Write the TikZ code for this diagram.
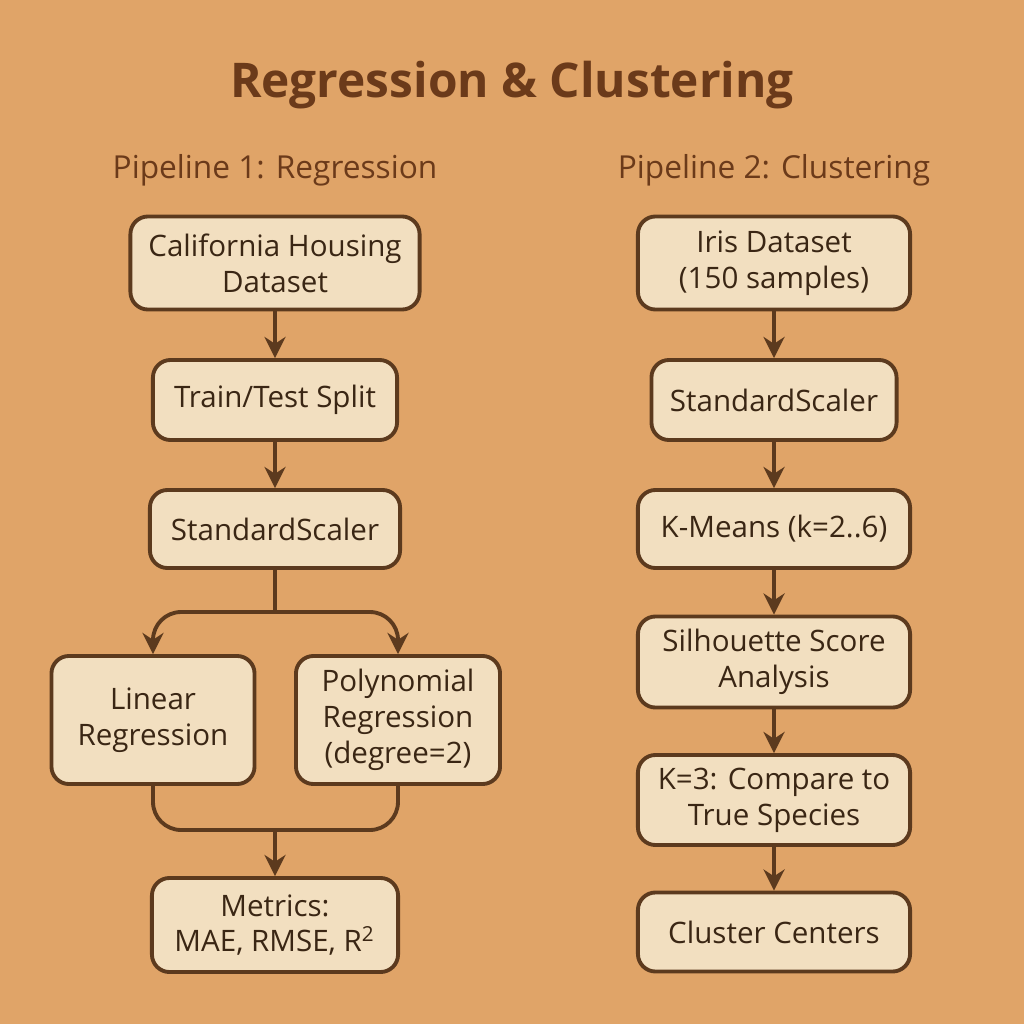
\documentclass[tikz,border=0pt]{standalone}
\usepackage{fontspec}
\setmainfont{Open Sans}
\usetikzlibrary{arrows.meta}
\definecolor{bg}{HTML}{E0A468}
\definecolor{boxf}{HTML}{F2DFC0}
\definecolor{brd}{HTML}{5C3A1E}
\definecolor{txt}{HTML}{3A2614}
\definecolor{ttl}{HTML}{6B3A1A}
\begin{document}
\begin{tikzpicture}[x=0.01cm,y=-0.01cm,
 box/.style={draw=brd,line width=1.1pt,fill=boxf,rounded corners=5pt,align=center,text=txt,font=\fontsize{8.4}{10.2}\selectfont,inner sep=0pt},
 arr/.style={draw=brd,line width=1.1pt,-{Stealth[length=6pt,width=6pt]}},
 ln/.style={draw=brd,line width=1.1pt}]
\useasboundingbox (0,0) rectangle (1024,1024);
\fill[bg] (0,0) rectangle (1024,1024);
\node[font=\bfseries\fontsize{13.6}{16}\selectfont,text=ttl] (title) at (512,85) {Regression \& Clustering};
\node[font=\fontsize{9}{11}\selectfont,text=ttl] (h1) at (275,170) {Pipeline 1: Regression};
\node[font=\fontsize{9}{11}\selectfont,text=ttl] (h2) at (774,170) {Pipeline 2: Clustering};
\node[box,minimum width=2.89cm,minimum height=0.93cm] (a1) at (275,263) {California Housing\\Dataset};
\node[box,minimum width=2.44cm,minimum height=0.80cm] (a2) at (275,400) {Train/Test Split};
\node[box,minimum width=2.50cm,minimum height=0.78cm] (a3) at (275,529) {StandardScaler};
\node[box,minimum width=2.03cm,minimum height=1.28cm] (a4) at (153,720) {Linear\\Regression};
\node[box,minimum width=2.04cm,minimum height=1.28cm] (a5) at (398,720) {Polynomial\\Regression\\(degree=2)};
\node[box,minimum width=2.46cm,minimum height=0.94cm] (a6) at (275,925) {Metrics:\\MAE, RMSE, R\textsuperscript{2}};
\node[box,minimum width=2.72cm,minimum height=0.93cm] (b1) at (774,263) {Iris Dataset\\(150 samples)};
\node[box,minimum width=2.45cm,minimum height=0.80cm] (b2) at (774,400) {StandardScaler};
\node[box,minimum width=2.72cm,minimum height=0.78cm] (b3) at (774,529) {K-Means (k=2..6)};
\node[box,minimum width=2.72cm,minimum height=0.91cm] (b4) at (774,662) {Silhouette Score\\Analysis};
\node[box,minimum width=2.72cm,minimum height=0.90cm] (b5) at (774,800) {K=3: Compare to\\True Species};
\node[box,minimum width=2.72cm,minimum height=0.79cm] (b6) at (774,932) {Cluster Centers};
\coordinate (s) at (275,612);
\coordinate (m) at (275,830);
\draw[arr] (a1) -- (a2);
\draw[arr] (a2) -- (a3);
\draw[ln] (a3) -- (s);
\draw[arr,rounded corners=8pt] (s) -| (a4);
\draw[arr,rounded corners=8pt] (s) -| (a5);
\draw[ln,rounded corners=8pt] (a4.south) |- (m);
\draw[ln,rounded corners=8pt] (a5.south) |- (m);
\draw[arr] (m) -- (a6);
\draw[arr] (b1) -- (b2);
\draw[arr] (b2) -- (b3);
\draw[arr] (b3) -- (b4);
\draw[arr] (b4) -- (b5);
\draw[arr] (b5) -- (b6);
\end{tikzpicture}
\end{document}
